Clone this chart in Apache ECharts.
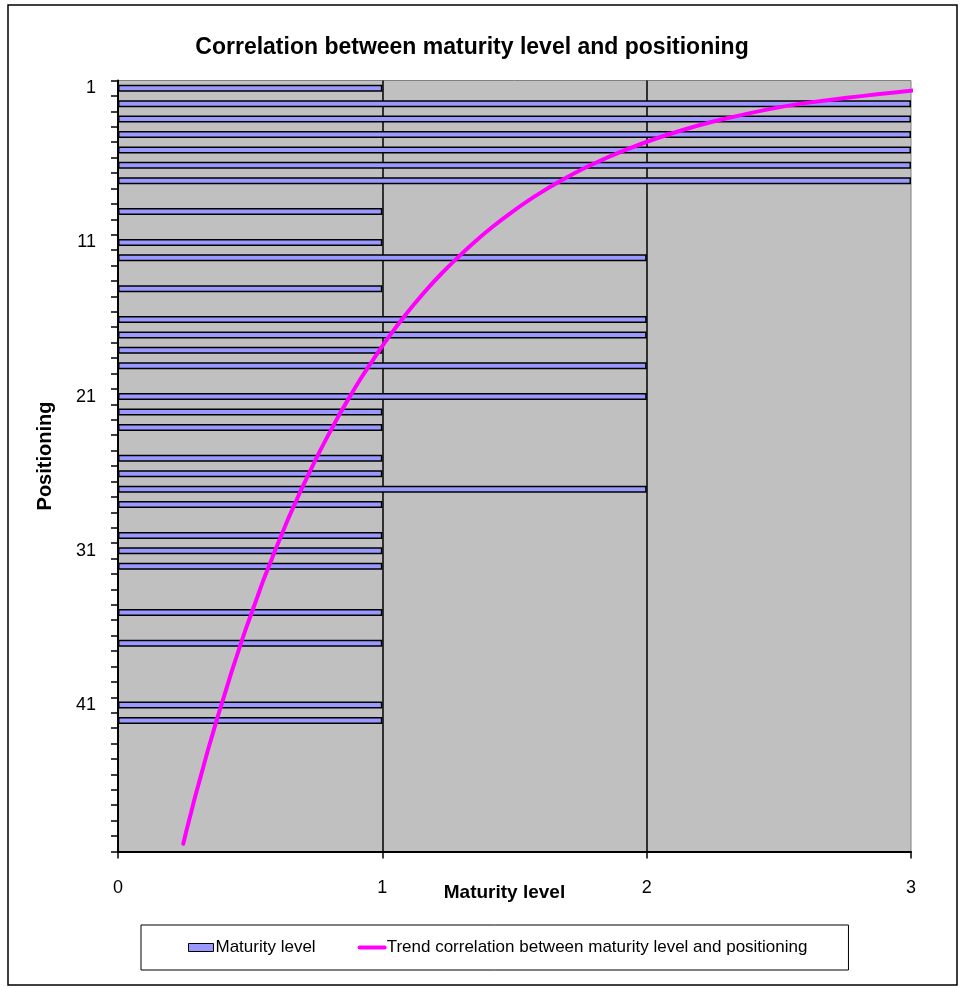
<!DOCTYPE html>
<html><head><meta charset="utf-8">
<script src="https://cdn.jsdelivr.net/npm/echarts@6/dist/echarts.min.js"></script>
<style>html,body{margin:0;padding:0;background:#fff}#c{width:960px;height:988px}</style>
</head><body><div id="c"></div>
<script>
// Category axis: ranking positions (1 = top)
const positions = ['1','2','3','4','5','6','7','8','9','10','11','12','13','14','15','16','17','18','19','20','21','22','23','24','25','26','27','28','29','30','31','32','33','34','35','36','37','38','39','40','41','42','43','44','45','46','47','48','49','50'];
// Maturity level per position (null = no bar)
const maturityLevel = [1,3,3,3,3,3,3,null,1,null,1,2,null,1,null,2,2,1,2,null,2,1,1,null,1,1,2,1,null,1,1,1,null,null,1,null,1,null,null,null,1,1,null,null,null,null,null,null,null,null];
// Trend curve at each position
const trend = [3.089,2.585,2.291,2.082,1.920,1.787,1.675,1.578,1.493,1.416,1.347,1.284,1.225,1.171,1.121,1.074,1.030,0.989,0.950,0.912,0.877,0.843,0.811,0.780,0.750,0.722,0.694,0.668,0.642,0.618,0.594,0.571,0.548,0.527,0.506,0.485,0.465,0.446,0.427,0.409,0.391,0.373,0.356,0.339,0.323,0.307,0.291,0.276,0.261,0.247];
const xMin = 0, xMax = 3, xStep = 1;

const FONT = "'Liberation Sans', Arial, sans-serif";
const chart = echarts.init(document.getElementById('c'), null, {renderer: 'canvas'});
chart.setOption({
  animation: false,
  backgroundColor: '#ffffff',
  textStyle: {fontFamily: FONT, color: '#000'},
  title: {
    text: 'Correlation between maturity level and positioning',
    left: 467, top: 31, textAlign: 'center',
    textStyle: {fontFamily: FONT, fontSize: 23, fontWeight: 'bold', color: '#000'}
  },
  graphic: [{
    type: 'rect', silent: true, z: -1,
    shape: {x: 8, y: 5, width: 949, height: 980},
    style: {fill: 'none', stroke: '#000', lineWidth: 1.5}
  }],
  legend: {
    left: 141, top: 925,
    padding: [14, 41, 14, 47],
    itemGap: 42, itemWidth: 25, itemHeight: 8,
    borderColor: '#000', borderWidth: 1,
    textStyle: {fontFamily: FONT, fontSize: 17, color: '#000', padding: [0, 0, 0, -3]},
    data: [
      {name: 'Maturity level', icon: 'rect', itemStyle: {color: '#9999FF', borderColor: '#000', borderWidth: 1}},
      {name: 'Trend correlation between maturity level and positioning',
       lineStyle: {width: 4, color: '#FF00FF'},
       itemStyle: {color: 'rgba(0,0,0,0)', borderWidth: 0, opacity: 0}}
    ]
  },
  grid: {
    left: 118, right: 49, top: 80.5, bottom: 136.5,
    show: true, backgroundColor: '#C0C0C0', borderColor: '#808080', borderWidth: 1,
    containLabel: false, outerBoundsMode: 'none'
  },
  xAxis: {
    type: 'value', min: xMin, max: xMax, interval: xStep,
    name: 'Maturity level', nameLocation: 'middle', nameGap: 32, nameMoveOverlap: false,
    nameTextStyle: {fontFamily: FONT, fontSize: 19, fontWeight: 'bold', color: '#000', padding: [0, 20, 0, 0]},
    axisLine: {show: true, lineStyle: {color: '#000', width: 2}},
    axisTick: {show: true, length: 7, lineStyle: {color: '#000', width: 1.5}},
    axisLabel: {fontFamily: FONT, fontSize: 18, color: '#000', margin: 28},
    splitLine: {show: true, showMinLine: false, showMaxLine: false, lineStyle: {color: '#000', width: 1.5}}
  },
  yAxis: {
    type: 'category', data: positions, inverse: true,
    name: 'Positioning', nameLocation: 'middle', nameGap: 63, nameRotate: 90, nameMoveOverlap: false,
    nameTextStyle: {fontFamily: FONT, fontSize: 20, fontWeight: 'bold', color: '#000', padding: [0, 0, 0, 20]},
    axisLine: {show: true, lineStyle: {color: '#000', width: 2}},
    axisTick: {show: true, interval: 0, length: 7, lineStyle: {color: '#000', width: 1.5}},
    axisLabel: {interval: 9, fontFamily: FONT, fontSize: 18, color: '#000', margin: 22},
    splitLine: {show: false}
  },
  series: [
    {
      name: 'Maturity level', type: 'bar', data: maturityLevel,
      barWidth: 7,
      itemStyle: {color: '#9999FF', borderColor: '#000', borderWidth: 1.5}
    },
    {
      name: 'Trend correlation between maturity level and positioning', type: 'line', data: trend,
      smooth: 0.3, symbol: 'none', clip: true, z: 5,
      lineStyle: {color: '#FF00FF', width: 4, cap: 'round'}
    }
  ]
});
</script></body></html>
